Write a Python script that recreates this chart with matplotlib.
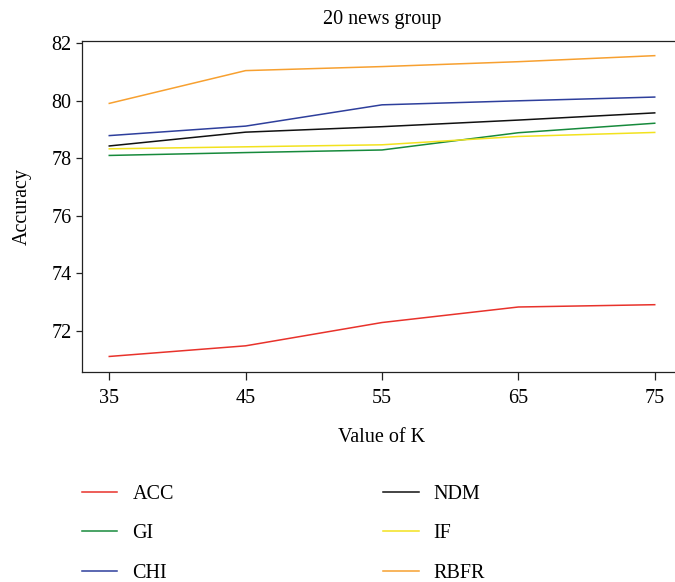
"""
Accuracy vs value of K on the 20 news group data set
"""

import matplotlib

# Non-interactive back-end, we only write a file
matplotlib.use('Agg')

import matplotlib.pyplot as plt

# Data
k_values = [35, 45, 55, 65, 75]
acc = [71.11, 71.48, 72.29, 72.83, 72.91]
ndm = [78.43, 78.91, 79.10, 79.33, 79.58]
gi = [78.10, 78.20, 78.29, 78.89, 79.22]
if_scores = [78.33, 78.40, 78.47, 78.76, 78.90]
chi = [78.79, 79.12, 79.86, 80.00, 80.13]
rbfr = [79.91, 81.05, 81.19, 81.36, 81.57]

series_names = ["ACC", "GI", "CHI", "NDM", "IF", "RBFR"]
series_values = [acc, gi, chi, ndm, if_scores, rbfr]
series_colours = ["#e8322b", "#178a3c", "#2e3f9c", "#111111", "#f2e21e", "#f7a030"]

y_ticks = [72, 74, 76, 78, 80, 82]

plt.rcParams['font.family'] = ['Liberation Serif', 'DejaVu Serif']
plt.rcParams['font.size'] = 14.5

fig = plt.figure(figsize=(6.75, 5.82), dpi=100)

# Axes runs a little past the right edge of the figure, as in the reference
ax = fig.add_axes([82 / 675, 1 - 371.7 / 582, 600 / 675, (371.7 - 40.7) / 582])

for name, values, colour in zip(series_names, series_values, series_colours):
    ax.plot(k_values, values, color=colour, linewidth=1.1, label=name)

ax.set_xlim(33.0, 77.0)
ax.set_ylim(70.58, 82.09)
ax.set_xticks(k_values)
ax.set_yticks(y_ticks)

for side in ["left", "bottom", "top"]:
    ax.spines[side].set_linewidth(0.9)
    ax.spines[side].set_color("#222222")
ax.spines["right"].set_visible(False)

ax.tick_params(axis="x", length=5.5, width=0.9, color="#222222", pad=7)
ax.tick_params(axis="y", length=4.5, width=0.9, color="#222222", pad=3)

ax.set_title("20 news group", fontsize=14.5, pad=12)
ax.set_xlabel("Value of K", fontsize=14.5, labelpad=14)
ax.set_ylabel("Accuracy", fontsize=14.5, labelpad=14)

# Legend below the chart, two columns
fig.legend(loc="upper left", bbox_to_anchor=(82 / 675, 1 - 485 / 582), ncol=2,
           frameon=False, borderpad=0, borderaxespad=0, fontsize=14.5,
           handlelength=1.75, handletextpad=0.75, columnspacing=10.4, labelspacing=1.0)

plt.savefig("out.png", dpi=100)
plt.close()
